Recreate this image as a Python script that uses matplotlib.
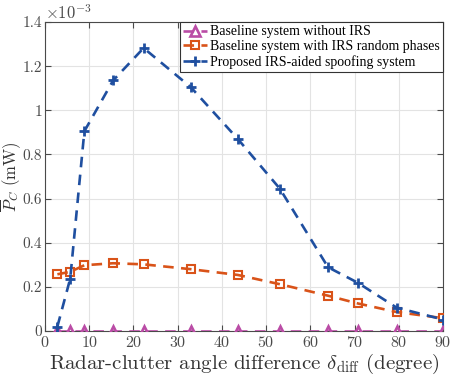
import matplotlib
matplotlib.use("Agg")
import matplotlib.pyplot as plt
from matplotlib.ticker import FuncFormatter, MultipleLocator

plt.rcParams['font.family'] = ['cmr10', 'DejaVu Serif']
plt.rcParams['mathtext.fontset'] = 'cm'
plt.rcParams['axes.formatter.use_mathtext'] = True

angle_deg = [2.8, 5.7, 8.9, 15.4, 22.3, 33.0, 43.6, 53.1, 64.0, 70.7, 79.5, 90.0]
no_irs = [0, 0, 0, 0, 0, 0, 0, 0, 0, 0, 0, 0]
random_phases = [0.257e-3, 0.268e-3, 0.298e-3, 0.307e-3, 0.302e-3, 0.280e-3,
                 0.254e-3, 0.212e-3, 0.160e-3, 0.125e-3, 0.086e-3, 0.058e-3]
proposed = [0.02e-3, 0.237e-3, 0.905e-3, 1.135e-3, 1.282e-3, 1.104e-3,
            0.870e-3, 0.645e-3, 0.289e-3, 0.219e-3, 0.106e-3, 0.052e-3]
labels = ['Baseline system without IRS',
          'Baseline system with IRS random phases',
          'Proposed IRS-aided spoofing system']

fig = plt.figure(figsize=(4.52, 3.78), dpi=100)
ax = fig.add_axes([45/452, 47/378, 398/452, 309/378])

dash = (4, 2.8)
ax.plot(angle_deg, no_irs, linestyle='--', color='#BA4CA6', lw=1.9,
        marker='^', ms=6.5, mfc='none', mew=1.9, label=labels[0], zorder=3,
        dashes=dash)
ax.plot(angle_deg, random_phases, linestyle='--', color='#D95319', lw=1.9,
        marker='s', ms=5.5, mfc='none', mew=1.5, label=labels[1], zorder=3,
        dashes=dash)
ax.plot(angle_deg, proposed, linestyle='--', color='#1F4FA0', lw=1.9,
        marker='+', ms=7, mew=2.0, label=labels[2], zorder=4,
        dashes=dash)

ax.set_xlim(0, 90)
ax.set_ylim(0, 1.4e-3)
ax.xaxis.set_major_locator(MultipleLocator(10))
ax.yaxis.set_major_locator(MultipleLocator(0.2e-3))
ax.yaxis.set_major_formatter(FuncFormatter(lambda v, p: '%g' % round(v * 1e3, 3)))

ax.grid(True, color='#e3e3e3', lw=0.8)
ax.set_axisbelow(True)
ax.tick_params(direction='in', top=True, right=True, labelsize=11.5,
               labelcolor='#4a4a4a', color='#4a4a4a', length=4, pad=3)
ax.tick_params(axis='y', pad=2, labelsize=11)
for s in ax.spines.values():
    s.set_color('#4a4a4a')
    s.set_linewidth(0.8)

ax.text(0.0, 1.0, r'$\times 10^{-3}$', transform=ax.transAxes,
        fontsize=12, color='#4a4a4a', ha='left', va='bottom')

ax.set_xlabel(r'Radar-clutter angle difference $\delta_{\mathrm{diff}}$ (degree)',
              fontsize=15, labelpad=1, color='#333333')
ax.set_ylabel(r'$\overline{P}_C$ (mW)', fontsize=12, color='#333333')
ax.yaxis.set_label_coords(-0.056, 0.5)

leg = ax.legend(loc='upper right', handlelength=1.7,
                prop={'family': ['Liberation Serif'], 'size': 10},
                handletextpad=0.2, borderpad=0.25, labelspacing=0.12,
                borderaxespad=0.0, fancybox=False, framealpha=1,
                edgecolor='#333333')
leg.get_frame().set_linewidth(0.8)

fig.savefig('out.png', dpi=100)
